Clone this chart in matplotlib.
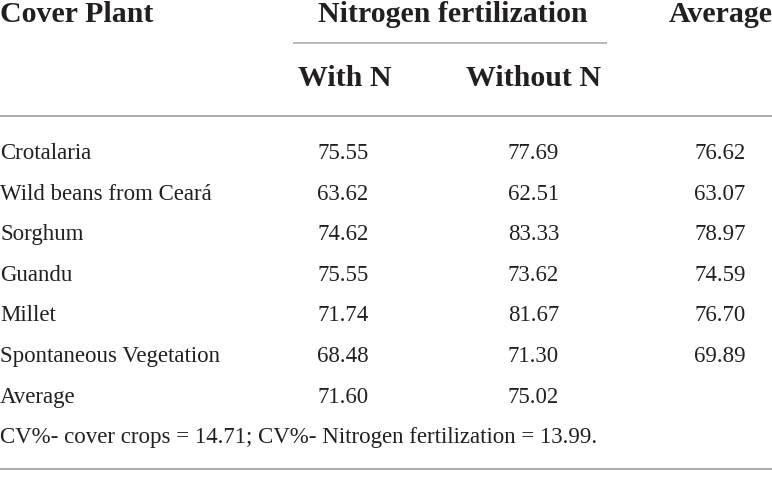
import matplotlib
matplotlib.use("Agg")
import matplotlib.pyplot as plt

plants = ["Crotalaria", "Wild beans from Ceará", "Sorghum", "Guandu", "Millet",
          "Spontaneous Vegetation"]
with_n = ["75.55", "63.62", "74.62", "75.55", "71.74", "68.48"]
without_n = ["77.69", "62.51", "83.33", "73.62", "81.67", "71.30"]
average = ["76.62", "63.07", "78.97", "74.59", "76.70", "69.89"]
avg_row = ["Average", "71.60", "75.02"]
footnote = "CV%- cover crops = 14.71; CV%- Nitrogen fertilization = 13.99."
header1 = ["Cover Plant", "Nitrogen fertilization", "Average"]
header2 = ["With N", "Without N"]

W, H = 772, 480
fig = plt.figure(figsize=(W / 100, H / 100), dpi=100)
ax = fig.add_axes([0, 0, 1, 1])
ax.set_xlim(0, W)
ax.set_ylim(H, 0)
ax.axis("off")

FONT = "Liberation Serif"
hs = 21.5
bs = 16.5
col_x = [0, 343, 533.5, 720]
tc = "#231f20"
lc = "#ababab"

def txt(x, y, s, size, ha, bold=False):
    ax.text(x, y, s, fontsize=size, family=FONT, ha=ha, va="baseline",
            color=tc, fontweight="bold" if bold else "normal")

# header
txt(0, 22, header1[0], hs, "left", True)
txt(453, 22, header1[1], hs, "center", True)
txt(720.5, 22, header1[2], hs, "center", True)
ax.plot([293, 607], [42.7, 42.7], color=lc, lw=1.2, solid_capstyle="butt")
txt(345, 86, header2[0], hs, "center", True)
txt(534, 86, header2[1], hs, "center", True)
ax.plot([0, W], [116, 116], color=lc, lw=1.4, solid_capstyle="butt")

y0, dy = 159, 40.6
for i in range(len(plants)):
    y = y0 + dy * i
    txt(col_x[0], y, plants[i], bs, "left")
    txt(col_x[1], y, with_n[i], bs, "center")
    txt(col_x[2], y, without_n[i], bs, "center")
    txt(col_x[3], y, average[i], bs, "center")

y = y0 + dy * len(plants)
txt(col_x[0], y, avg_row[0], bs, "left")
txt(col_x[1], y, avg_row[1], bs, "center")
txt(col_x[2], y, avg_row[2], bs, "center")
txt(col_x[0], y + dy, footnote, bs, "left")
ax.plot([0, W], [469, 469], color=lc, lw=1.4, solid_capstyle="butt")

fig.savefig("out.png", dpi=100, facecolor="white")
